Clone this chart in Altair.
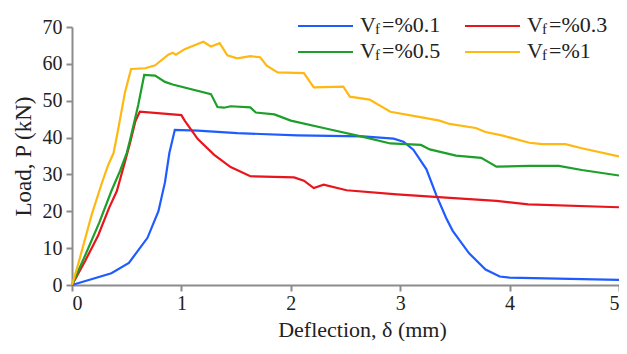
import altair as alt
import pandas as pd

# ---- data ----
series_names = ["Vf=%0.1", "Vf=%0.3", "Vf=%0.5", "Vf=%1"]
series_colors = ["#1f5cff", "#e8161c", "#1d9f2a", "#ffb812"]

x01 = [0, 0.36, 0.52, 0.69, 0.79, 0.85, 0.89, 0.94, 1.15, 1.51, 2.06, 2.66, 2.94, 3.03, 3.12,
       3.24, 3.33, 3.42, 3.48, 3.63, 3.78, 3.91, 4.0, 4.33, 5.0]
y01 = [0, 3.2, 6.0, 12.8, 20.0, 27.9, 35.8, 42.1, 41.9, 41.2, 40.6, 40.3, 39.7, 38.9, 36.7,
       31.4, 24.4, 18.2, 14.7, 8.6, 4.2, 2.3, 2.0, 1.8, 1.4]

x03 = [0, 0.12, 0.24, 0.34, 0.41, 0.48, 0.53, 0.58, 0.62, 1.0, 1.03, 1.15, 1.30, 1.45, 1.63,
       2.03, 2.12, 2.21, 2.30, 2.51, 2.97, 3.42, 3.88, 4.17, 5.0]
y03 = [0, 6.5, 13.5, 21.0, 25.5, 33.0, 38.5, 44.5, 47.0, 46.1, 44.6, 39.6, 35.3, 32.0, 29.5,
       29.2, 28.3, 26.3, 27.2, 25.7, 24.6, 23.7, 22.8, 21.9, 21.1]

x05 = [0, 0.12, 0.25, 0.36, 0.44, 0.5, 0.53, 0.606, 0.66, 0.76, 0.85, 0.92, 1.27, 1.33, 1.39,
       1.45, 1.63, 1.68, 1.85, 2.0, 2.33, 2.66, 2.91, 3.19, 3.27, 3.51, 3.74, 3.88, 4.18, 4.45,
       4.66, 5.0]
y05 = [0, 8.0, 17.0, 25.5, 31.0, 35.8, 39.3, 48.9, 57.0, 56.8, 55.1, 54.4, 51.8, 48.3, 48.1,
       48.5, 48.2, 46.8, 46.3, 44.6, 42.4, 40.2, 38.4, 38.0, 36.8, 35.1, 34.5, 32.1, 32.3, 32.3,
       31.2, 29.7]

x1 = [0, 0.06, 0.18, 0.27, 0.33, 0.38, 0.42, 0.485, 0.54, 0.67, 0.76, 0.88, 0.92, 0.95, 1.03,
      1.20, 1.27, 1.35, 1.42, 1.51, 1.63, 1.72, 1.78, 1.88, 2.12, 2.21, 2.48, 2.54, 2.72, 2.91,
      3.21, 3.36, 3.45, 3.69, 3.78, 3.93, 4.18, 4.30, 4.51, 4.66, 5.0]
y1 = [0, 6.0, 19.1, 27.4, 32.5, 35.8, 41.9, 52.4, 58.6, 58.8, 59.6, 62.5, 63.0, 62.5, 64.0,
      66.0, 64.7, 65.6, 62.3, 61.5, 62.1, 61.8, 59.5, 57.7, 57.5, 53.6, 53.8, 51.1, 50.3, 47.0,
      45.4, 44.6, 43.7, 42.6, 41.5, 40.6, 38.6, 38.2, 38.2, 37.1, 34.9]

x_ticks = [0, 1, 2, 3, 4, 5]
y_ticks = [0, 10, 20, 30, 40, 50, 60, 70]

legend_tails = ["=%0.1", "=%0.3", "=%0.5", "=%1"]

# ---- build long table ----
rows = []
for name, xs, ys in zip(series_names, [x01, x03, x05, x1], [y01, y03, y05, y1]):
    for i, (a, b) in enumerate(zip(xs, ys)):
        rows.append({"series": name, "x": a, "y": b, "i": i})
df = pd.DataFrame(rows)

FONT = "Liberation Serif"
TXT = "#222222"

lines = alt.Chart(df).mark_line(strokeWidth=2.2).encode(
    x=alt.X("x:Q", scale=alt.Scale(domain=[0, 5], nice=False),
            axis=alt.Axis(values=x_ticks, title="Deflection, δ (mm)", format="d",
                          titleX=290, titleY=51, titleBaseline="alphabetic",
                          titleFontSize=22, labelPadding=2)),
    y=alt.Y("y:Q", scale=alt.Scale(domain=[0, 70], nice=False),
            axis=alt.Axis(values=y_ticks, title="Load, P (kN)", format="d",
                          titleX=-42, titleY=129, titleBaseline="alphabetic",
                          labelPadding=4)),
    color=alt.Color("series:N", scale=alt.Scale(domain=series_names, range=series_colors),
                    legend=None),
    detail="series:N",
    order="i:Q",
)

# ---- manual legend (line sample + V with subscript f + tail) ----
layers = [lines]
one = pd.DataFrame({"k": [0]})
col_x = [226, 393]   # line start, relative to plot left
row_y = [-1, 25]     # line y, relative to plot top
for idx, (name, color, tail) in enumerate(zip(series_names, series_colors, legend_tails)):
    c, r = idx % 2, idx // 2
    lx, ly = col_x[c], row_y[r]
    base = ly + 4
    layers.append(alt.Chart(one).mark_rule(color=color, strokeWidth=2.2).encode(
        x=alt.value(lx), x2=alt.value(lx + 55), y=alt.value(ly)))
    layers.append(alt.Chart(one).mark_text(text="V", font=FONT, fontSize=22, color=TXT,
                                           align="left", baseline="alphabetic").encode(
        x=alt.value(lx + 62), y=alt.value(base + 2)))
    layers.append(alt.Chart(one).mark_text(text="f", font=FONT, fontSize=15, color=TXT,
                                           align="left", baseline="alphabetic").encode(
        x=alt.value(lx + 77), y=alt.value(base + 4)))
    layers.append(alt.Chart(one).mark_text(text=tail, font=FONT, fontSize=22, color=TXT,
                                           align="left", baseline="alphabetic").encode(
        x=alt.value(lx + 84), y=alt.value(base + 2)))

chart = alt.layer(*layers).properties(
    width=547, height=258,
    autosize=alt.AutoSizeParams(type="none"),
    padding={"left": 64, "top": 19, "right": 0, "bottom": 56},
).configure_view(stroke=None).configure_axis(
    grid=False,
    domainColor="#8c8c8c", domainWidth=2,
    tickColor="#8c8c8c", tickWidth=2, tickSize=6,
    labelFont=FONT, labelFontSize=20, labelColor=TXT,
    titleFont=FONT, titleFontSize=23, titleFontWeight="normal", titleColor=TXT,
)

chart.save("out.html", embed_options={"renderer": "svg", "actions": False})
